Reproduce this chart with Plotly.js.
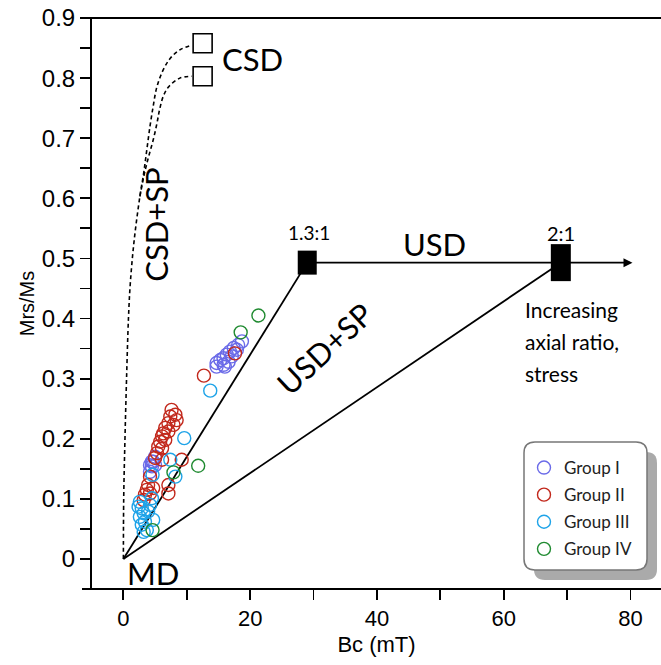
<!DOCTYPE html>
<html>
<head>
<meta charset="utf-8">
<script src="https://cdn.plot.ly/plotly-3.0.1.min.js"></script>
<style>html,body{margin:0;padding:0;background:#fff;}#chart{width:661px;height:665px;}</style>
</head>
<body>
<div id="chart"></div>
<script>
// ---------- data ----------
const groupNames = ['Group I', 'Group II', 'Group III', 'Group IV'];

const bcI  = [18.7, 18.1, 17.4, 16.8, 16.3, 15.8, 15.3, 14.7, 14.7, 15.8, 16.6, 17.1, 17.9, 16.0, 4.7, 4.5, 4.2, 5.0, 5.0, 4.2, 4.5];
const mrsI = [0.362, 0.356, 0.351, 0.345, 0.340, 0.334, 0.331, 0.326, 0.320, 0.323, 0.328, 0.337, 0.348, 0.320, 0.162, 0.154, 0.145, 0.156, 0.170, 0.156, 0.162];

const bcII  = [17.6, 12.7, 9.2, 7.1, 7.1, 7.6, 8.2, 7.4, 8.4, 7.1, 6.6, 7.1, 6.3, 6.1, 6.6, 5.8, 5.5, 6.1, 5.3, 5.0, 7.9, 6.1, 4.2, 3.9, 3.7, 3.4, 3.2, 4.7, 4.2];
const mrsII = [0.342, 0.305, 0.165, 0.109, 0.123, 0.248, 0.240, 0.237, 0.231, 0.226, 0.218, 0.212, 0.209, 0.204, 0.198, 0.195, 0.187, 0.184, 0.176, 0.168, 0.223, 0.165, 0.137, 0.123, 0.115, 0.107, 0.098, 0.118, 0.109];

const bcIII  = [13.7, 9.6, 7.4, 8.2, 2.6, 2.9, 3.2, 2.6, 3.4, 2.9, 3.7, 3.2, 4.2, 3.9, 4.5, 2.4, 4.7, 4.6];
const mrsIII = [0.280, 0.201, 0.165, 0.137, 0.095, 0.084, 0.076, 0.070, 0.062, 0.057, 0.048, 0.045, 0.090, 0.079, 0.101, 0.087, 0.065, 0.140];

const bcIV  = [21.3, 18.5, 11.8, 7.9, 4.6];
const mrsIV = [0.405, 0.377, 0.155, 0.144, 0.048];

// reference model lines
const mdBc = 0, mdMrs = 0;
const usd13Bc = 29, usd13Mrs = 0.493;   // 1.3:1
const usd21Bc = 69, usd21Mrs = 0.493;   // 2:1
const arrowEndBc = 80.3;
const csdBc = [12.5, 12.5];
const csdMrs = [0.858, 0.803];

// CSD+SP mixing curves (dashed)
const csdSpUpperBc  = [0, 0.05, 0.25, 0.5, 0.8, 1.1, 1.7, 2.6, 3.2, 3.7, 4.2, 4.7, 5.3, 6.3, 7.4, 8.9, 10.8];
const csdSpUpperMrs = [0, 0.10, 0.20, 0.30, 0.40, 0.46, 0.53, 0.603, 0.642, 0.681, 0.72, 0.753, 0.786, 0.814, 0.833, 0.847, 0.855];
const csdSpLowerBc  = [2.6, 3.4, 4.0, 4.7, 5.3, 5.7, 6.3, 7.1, 8.9, 10.8];
const csdSpLowerMrs = [0.603, 0.645, 0.67, 0.697, 0.725, 0.747, 0.77, 0.785, 0.80, 0.803];

const xTickVals = [0, 10, 20, 30, 40, 50, 60, 70, 80];
const xTickText = ['0', '', '20', '', '40', '', '60', '', '80'];
const yTickVals = [0, 0.05, 0.1, 0.15, 0.2, 0.25, 0.3, 0.35, 0.4, 0.45, 0.5, 0.55, 0.6, 0.65, 0.7, 0.75, 0.8, 0.85, 0.9];
const yTickText = ['0', '', '0.1', '', '0.2', '', '0.3', '', '0.4', '', '0.5', '', '0.6', '', '0.7', '', '0.8', '', '0.9'];

// ---------- styling ----------
const colors = ['#6a6ae8', '#c2281c', '#1ea3e8', '#1f8a30'];
const sans = 'Lato';
const arial = 'Liberation Sans';

const M = {l: 92, r: 0, t: 18, b: 76};
const W = 661, H = 665;
const PW = W - M.l - M.r, PH = H - M.t - M.b;
function px2paperX(px) { return (px - M.l) / PW; }
function px2paperY(py) { return (H - M.b - py) / PH; }
function roundRectPath(x0, y0, x1, y1, r) {
  const X = px2paperX, Y = px2paperY;
  return 'M' + X(x0 + r) + ',' + Y(y0) +
    ' L' + X(x1 - r) + ',' + Y(y0) +
    ' Q' + X(x1) + ',' + Y(y0) + ' ' + X(x1) + ',' + Y(y0 + r) +
    ' L' + X(x1) + ',' + Y(y1 - r) +
    ' Q' + X(x1) + ',' + Y(y1) + ' ' + X(x1 - r) + ',' + Y(y1) +
    ' L' + X(x0 + r) + ',' + Y(y1) +
    ' Q' + X(x0) + ',' + Y(y1) + ' ' + X(x0) + ',' + Y(y1 - r) +
    ' L' + X(x0) + ',' + Y(y0 + r) +
    ' Q' + X(x0) + ',' + Y(y0) + ' ' + X(x0 + r) + ',' + Y(y0) + ' Z';
}

const dashStyle = {color: 'black', width: 1.6, dash: '4px,3px', shape: 'spline'};
const traces = [
  {x: csdSpUpperBc, y: csdSpUpperMrs, mode: 'lines', line: dashStyle, showlegend: false, hoverinfo: 'skip'},
  {x: csdSpLowerBc, y: csdSpLowerMrs, mode: 'lines', line: dashStyle, showlegend: false, hoverinfo: 'skip'},
  {x: [mdBc, usd13Bc], y: [mdMrs, usd13Mrs], mode: 'lines', line: {color: 'black', width: 1.8}, showlegend: false, hoverinfo: 'skip'},
  {x: [mdBc, usd21Bc], y: [mdMrs, usd21Mrs], mode: 'lines', line: {color: 'black', width: 1.8}, showlegend: false, hoverinfo: 'skip'},
  {x: [usd13Bc, usd21Bc], y: [usd13Mrs, usd21Mrs], mode: 'lines', line: {color: 'black', width: 1.8}, showlegend: false, hoverinfo: 'skip'},
  {x: csdBc, y: csdMrs, mode: 'markers', marker: {symbol: 'square-open', size: 19, color: 'black', line: {width: 1.6}}, showlegend: false, hoverinfo: 'skip'}
];
const groupsX = [bcI, bcII, bcIII, bcIV];
const groupsY = [mrsI, mrsII, mrsIII, mrsIV];
for (let i = 0; i < 4; i++) {
  traces.push({
    x: groupsX[i], y: groupsY[i], mode: 'markers', name: groupNames[i],
    legendgroup: 'g' + i,
    marker: {symbol: 'circle-open', size: 13, color: colors[i], line: {width: 1.4, color: colors[i]}}
  });
}

const shapes = [
  {type: 'path', xref: 'paper', yref: 'paper', path: roundRectPath(534, 452, 657, 580, 11), fillcolor: '#aaaaaa', line: {width: 0}, layer: 'above'},
  {type: 'path', xref: 'paper', yref: 'paper', path: roundRectPath(524, 442, 647, 570, 11), fillcolor: 'white', line: {color: '#777777', width: 1.5}, layer: 'above'},
  {type: 'line', xref: 'paper', yref: 'paper', x0: -10 / PW, x1: 1, y0: 0, y1: 0, line: {color: 'black', width: 2}},
  {type: 'line', xref: 'paper', yref: 'paper', x0: -10 / PW, x1: 1, y0: 1, y1: 1, line: {color: 'black', width: 2}},
  {type: 'rect', xref: 'x', yref: 'y', xsizemode: 'pixel', ysizemode: 'pixel', xanchor: usd13Bc, yanchor: usd13Mrs,
   x0: -9.5, x1: 9.5, y0: -12, y1: 12, fillcolor: 'black', line: {width: 0}},
  {type: 'rect', xref: 'x', yref: 'y', xsizemode: 'pixel', ysizemode: 'pixel', xanchor: usd21Bc, yanchor: usd21Mrs,
   x0: -10, x1: 10, y0: -18.5, y1: 18.5, fillcolor: 'black', line: {width: 0}}
];

const ann = (text, x, y, size, extra) => Object.assign({text: text, x: x, y: y, xref: 'x', yref: 'y', showarrow: false,
  font: {family: sans, size: size, color: 'black'}}, extra || {});

const annotations = [
  ann('CSD', 20.3, 0.832, 31),
  ann('CSD+SP', 5.15, 0.556, 31, {textangle: -90}),
  ann('1.3:1', 29.3, 0.543, 19),
  ann('USD', 49.0, 0.524, 31),
  ann('2:1', 69.0, 0.543, 20),
  ann('Increasing', 63.0, 0.415, 21, {xanchor: 'left'}),
  ann('axial ratio,', 63.0, 0.3615, 21, {xanchor: 'left'}),
  ann('stress', 63.0, 0.308, 21, {xanchor: 'left'}),
  ann('USD+SP', 31.8, 0.351, 31, {textangle: -43}),
  ann('MD', 4.7, -0.023, 31),
  {x: arrowEndBc, y: usd21Mrs, ax: usd21Bc, ay: usd21Mrs, xref: 'x', yref: 'y', axref: 'x', ayref: 'y',
   text: '', showarrow: true, arrowhead: 2, arrowsize: 1, arrowwidth: 1.8, arrowcolor: 'black'}
];

const layout = {
  width: W, height: H,
  margin: M,
  paper_bgcolor: 'white', plot_bgcolor: 'white',
  showlegend: true,
  legend: {x: px2paperX(524), y: px2paperY(450), xanchor: 'left', yanchor: 'top',
           bgcolor: 'rgba(0,0,0,0)', borderwidth: 0, tracegroupgap: 2,
           font: {family: sans, size: 17, color: '#222'}},
  xaxis: {range: [-4.95, 84.8], tickvals: xTickVals, ticktext: xTickText, ticks: 'outside', ticklen: 10, tickwidth: 1.8,
          tickcolor: 'black', showgrid: false, zeroline: false, showline: false,
          tickfont: {family: arial, size: 22, color: 'black'},
          title: {text: 'Bc (mT)', font: {family: arial, size: 22, color: 'black'}, standoff: 6}},
  yaxis: {range: [-0.05, 0.9], tickvals: yTickVals, ticktext: yTickText, ticks: 'outside', ticklen: 10, tickwidth: 1.8,
          tickcolor: 'black', showgrid: false, zeroline: false, showline: true, linecolor: 'black', linewidth: 2,
          tickfont: {family: arial, size: 24, color: 'black'},
          title: {text: 'Mrs/Ms', font: {family: arial, size: 20, color: 'black'}, standoff: 2}},
  shapes: shapes,
  annotations: annotations
};

Plotly.newPlot('chart', traces, layout, {displayModeBar: false, staticPlot: true});
</script>
</body>
</html>
